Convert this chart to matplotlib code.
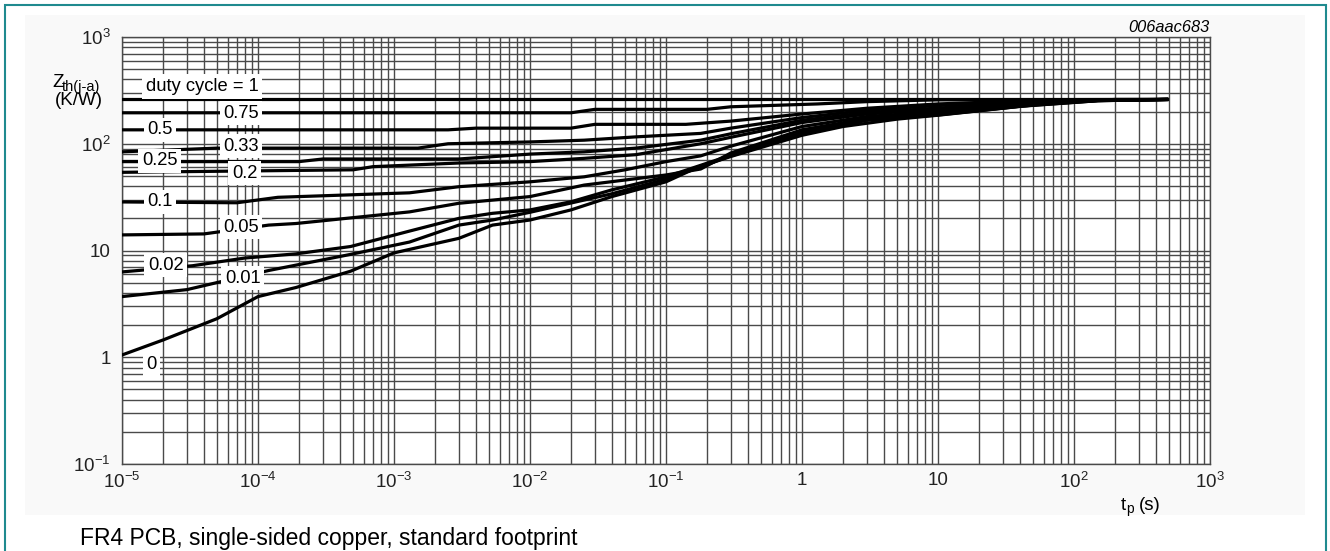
import numpy as np
import matplotlib
matplotlib.use('Agg')
import matplotlib.pyplot as plt
from matplotlib.ticker import LogLocator, FixedLocator, FixedFormatter, NullFormatter
from matplotlib.patches import Rectangle

plt.rcParams['font.family'] = ['Liberation Sans', 'DejaVu Sans']

# pulse time (s) and Zth (K/W) per duty cycle
tp_d1 = [1e-5, 480]
z_d1 = [260, 260]

tp_d075 = [1e-5, 2e-2, 3e-2, 0.2, 0.3, 1.3, 3, 10, 480]
z_d075 = [195, 195, 210, 210, 222, 236, 248, 258, 260]

tp_d05 = [1e-5, 2.5e-3, 4e-3, 2e-2, 3e-2, 0.14, 0.3, 1, 3, 10, 40, 480]
z_d05 = [135, 135, 140, 140, 152, 152, 163, 190, 215, 236, 252, 260]

tp_d033 = [1e-5, 5e-5, 1.5e-3, 2.5e-3, 1e-2, 2.5e-2, 6e-2, 0.18, 0.3, 1, 3, 10, 40, 480]
z_d033 = [84, 91, 91, 100, 104, 108, 116, 125, 140, 176, 206, 228, 248, 260]

tp_d025 = [1e-5, 2e-4, 3e-4, 3e-3, 1e-2, 2.5e-2, 6e-2, 0.18, 0.3, 1, 3, 10, 40, 150, 480]
z_d025 = [68, 68, 72, 72, 80, 84, 91, 108, 124, 166, 196, 216, 240, 258, 260]

tp_d02 = [1e-5, 5e-4, 7e-4, 3e-3, 1e-2, 2.5e-2, 6e-2, 0.18, 0.3, 1, 3, 10, 40, 150, 480]
z_d02 = [54, 57, 61, 66, 68, 73, 79, 100, 115, 158, 190, 210, 238, 257, 260]

tp_d01 = [1e-5, 7e-5, 1.4e-4, 1.3e-3, 3e-3, 1e-2, 2.5e-2, 5e-2, 0.1, 0.18, 0.3, 1, 3, 10, 40, 150, 480]
z_d01 = [28.5, 28, 31.5, 34.7, 39.6, 44, 49, 57, 68, 77, 95, 145, 180, 200, 232, 255, 260]

tp_d005 = [1e-5, 4e-5, 1.2e-4, 1.9e-4, 1.3e-3, 3e-3, 1e-2, 2.5e-2, 0.1, 0.18, 0.3, 1, 3, 10, 40, 150, 480]
z_d005 = [14, 14.3, 17.3, 17.9, 23, 27.7, 32, 41, 51, 58, 82, 135, 172, 192, 228, 254, 260]

tp_d002 = [1e-5, 3.3e-5, 8e-5, 1.9e-4, 4.8e-4, 1.3e-3, 3e-3, 5.3e-3, 1e-2, 2e-2, 4e-2, 0.1, 0.3, 1, 3, 10, 40, 150, 480]
z_d002 = [6.3, 7.2, 8.5, 9.3, 10.9, 15.2, 20, 22.3, 24, 28.6, 37, 49, 78, 128, 168, 188, 225, 253, 260]

tp_d001 = [1e-5, 3e-5, 1.2e-4, 4.8e-4, 1.3e-3, 3e-3, 5.3e-3, 1e-2, 4e-2, 0.1, 0.3, 1, 3, 10, 40, 150, 480]
z_d001 = [3.7, 4.3, 6.5, 9.2, 12, 17.3, 19.3, 22.8, 34, 46.5, 77, 124, 166, 186, 224, 253, 260]

tp_d0 = [1e-5, 2e-5, 5e-5, 1e-4, 1.9e-4, 4.8e-4, 1e-3, 3e-3, 5.3e-3, 1e-2, 2e-2, 4e-2, 0.1, 0.17, 0.3, 1, 2, 5, 10, 30, 70, 130, 200, 480]
z_d0 = [1.05, 1.45, 2.3, 3.7, 4.5, 6.4, 9.5, 13, 17.3, 19.3, 24, 32, 44, 60, 76, 120, 145, 170, 185, 215, 242, 253, 260, 260]

curves = [(tp_d1, z_d1), (tp_d075, z_d075), (tp_d05, z_d05), (tp_d033, z_d033),
          (tp_d025, z_d025), (tp_d02, z_d02), (tp_d01, z_d01), (tp_d005, z_d005),
          (tp_d002, z_d002), (tp_d001, z_d001), (tp_d0, z_d0)]

duty_labels = ['duty cycle = 1', '0.75', '0.5', '0.33', '0.25', '0.2', '0.1', '0.05', '0.02', '0.01', '0']
label_pos = [(3.9e-5, 345), (7.5e-5, 194), (1.9e-5, 135), (7.5e-5, 95), (1.9e-5, 69), (8e-5, 53),
             (1.9e-5, 28.5), (7.5e-5, 16.6), (2.1e-5, 7.3), (7.7e-5, 5.5), (1.65e-5, 0.86)]

xticks = [1e-5, 1e-4, 1e-3, 1e-2, 1e-1, 1, 10, 100, 1000]
xticklabels = [r'$\mathregular{10^{-5}}$', r'$\mathregular{10^{-4}}$', r'$\mathregular{10^{-3}}$',
               r'$\mathregular{10^{-2}}$', r'$\mathregular{10^{-1}}$', '1', '10',
               r'$\mathregular{10^{2}}$', r'$\mathregular{10^{3}}$']
yticks = [0.1, 1, 10, 100, 1000]
yticklabels = [r'$\mathregular{10^{-1}}$', '1', '10', r'$\mathregular{10^{2}}$', r'$\mathregular{10^{3}}$']

fig = plt.figure(figsize=(13.3, 5.51), dpi=100)
fig.add_artist(Rectangle((25 / 1330, 1 - 515 / 551), 1280 / 1330, 500 / 551,
                         transform=fig.transFigure, facecolor='#f9f9f9', edgecolor='none', zorder=0))
fig.add_artist(Rectangle((5 / 1330, -0.02), 1321 / 1330, 1.02 - 5 / 551,
                         transform=fig.transFigure, fill=False, edgecolor='#1f8a8f', lw=1.5, zorder=5))

ax = fig.add_axes([122 / 1330, 1 - 464 / 551, 1088 / 1330, 427 / 551])
ax.set_facecolor('white')
ax.set_xscale('log')
ax.set_yscale('log')
ax.set_xlim(1e-5, 1e3)
ax.set_ylim(0.1, 1e3)

ax.xaxis.set_major_locator(FixedLocator(xticks))
ax.xaxis.set_major_formatter(FixedFormatter(xticklabels))
ax.yaxis.set_major_locator(FixedLocator(yticks))
ax.yaxis.set_major_formatter(FixedFormatter(yticklabels))
ax.xaxis.set_minor_locator(LogLocator(base=10, subs=np.arange(2, 10), numticks=100))
ax.yaxis.set_minor_locator(LogLocator(base=10, subs=np.arange(2, 10), numticks=100))
ax.xaxis.set_minor_formatter(NullFormatter())
ax.yaxis.set_minor_formatter(NullFormatter())
ax.tick_params(which='both', length=0, labelsize=13.5, colors='#222222')
ax.tick_params(axis='x', pad=6)
ax.tick_params(axis='y', pad=8)
ax.grid(which='both', color='#4a4a4a', lw=1.0)
for s in ax.spines.values():
    s.set_color('#4a4a4a')
    s.set_linewidth(1.0)

for (t, z) in curves:
    ax.plot(t, z, color='black', lw=2.3, solid_joinstyle='round', zorder=3)

for lab, (lx, ly) in zip(duty_labels, label_pos):
    ax.text(lx, ly, lab, fontsize=13.2, ha='center', va='center', zorder=4,
            bbox=dict(boxstyle='square,pad=0.2', facecolor='white', edgecolor='none'))

# axis titles
fig.text(52 / 1330, 1 - 87 / 551, 'Z', fontsize=13.5, ha='left', va='baseline')
fig.text(62 / 1330, 1 - 91 / 551, 'th(j-a)', fontsize=10.5, ha='left', va='baseline')
fig.text(79 / 1330, 1 - 100 / 551, '(K/W)', fontsize=13.5, ha='center', va='center')
fig.text(1121 / 1330, 1 - 510 / 551, 't', fontsize=13.5, ha='left', va='baseline')
fig.text(1126 / 1330, 1 - 513 / 551, 'p', fontsize=10, ha='left', va='baseline')
fig.text(1139 / 1330, 1 - 510 / 551, '(s)', fontsize=13.5, ha='left', va='baseline')

fig.text(1210 / 1330, 1 - 27 / 551, '006aac683', fontsize=11.8, style='italic', ha='right', va='center')
fig.text(80 / 1330, 1 - 545 / 551, 'FR4 PCB, single-sided copper, standard footprint',
         fontsize=16.5, ha='left', va='baseline')

fig.savefig('out.png', dpi=100)
